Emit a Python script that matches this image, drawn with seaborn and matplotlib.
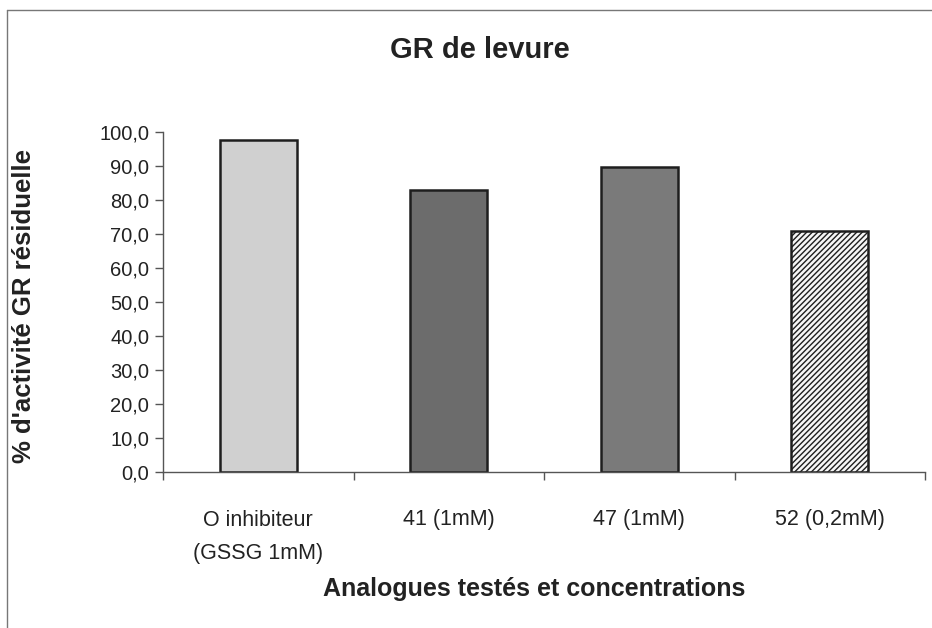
import matplotlib
matplotlib.use("Agg")
import matplotlib.pyplot as plt
import seaborn as sns
import pandas as pd

# Residual GR activity for each tested analogue
categories = ["O inhibiteur\n(GSSG 1mM)", "41 (1mM)", "47 (1mM)", "52 (0,2mM)"]
activity = [97.6, 82.9, 89.7, 70.9]
bar_colors = ["#d0d0d0", "#6c6c6c", "#7a7a7a", "#f6f6f6"]
bar_hatches = ["", "", "", "//////"]
y_ticks = [0, 10, 20, 30, 40, 50, 60, 70, 80, 90, 100]

sns.set_theme(style="white")
plt.rcParams["font.family"] = ["Liberation Sans", "DejaVu Sans"]
plt.rcParams["hatch.color"] = "#767676"
plt.rcParams["hatch.linewidth"] = 1.0

df = pd.DataFrame({"analogue": categories, "activite": activity})

fig = plt.figure(figsize=(9.32, 6.28), dpi=100)
ax = fig.add_axes([163 / 932, 1 - 472 / 628, 762 / 932, 340 / 628])

sns.barplot(data=df, x="analogue", y="activite", hue="analogue",
            palette=bar_colors, legend=False, width=0.405,
            edgecolor="#1e1e1e", linewidth=1.8, ax=ax)
for patch, h in zip(ax.patches, bar_hatches):
    patch.set_hatch(h)

ax.set_xlim(-0.5, len(categories) - 0.5)
ax.set_ylim(0, 100)
ax.set_yticks(y_ticks)
ax.set_yticklabels([f"{v:.1f}".replace(".", ",") for v in y_ticks],
                   fontsize=14.5, color="#222222")
ax.set_xticks(range(len(categories)))
ax.set_xticklabels(categories, fontsize=15.5, linespacing=1.75,
                   color="#222222")
ax.set_xticks([i - 0.5 for i in range(len(categories) + 1)], minor=True)
ax.tick_params(axis="x", which="major", length=0, pad=27)
ax.tick_params(axis="x", which="minor", length=6, width=1, color="#555555",
               direction="out", bottom=True)
ax.tick_params(axis="y", length=6, width=1, color="#555555", direction="out",
               left=True, pad=4)

for side in ["top", "right"]:
    ax.spines[side].set_visible(False)
for side in ["left", "bottom"]:
    ax.spines[side].set_color("#555555")
    ax.spines[side].set_linewidth(1.0)

ax.set_xlabel("Analogues testés et concentrations", fontsize=18,
              fontweight="bold", color="#222222")
ax.xaxis.set_label_coords((534 - 163) / 762, -(577 - 472) / 340)
ax.set_ylabel("% d'activité GR résiduelle", fontsize=18.5, fontweight="bold",
              color="#222222")
ax.yaxis.set_label_coords(-(163 - 36) / 762, (472 - 306) / 340)
fig.text(480 / 932, 1 - 50 / 628, "GR de levure", fontsize=21,
         fontweight="bold", ha="center", va="center", color="#222222")

# chart frame edges
fig.add_artist(plt.Line2D([7 / 932, 7 / 932], [0, 1 - 10 / 628],
                          transform=fig.transFigure, color="#777777", lw=1))
fig.add_artist(plt.Line2D([7 / 932, 1], [1 - 10 / 628, 1 - 10 / 628],
                          transform=fig.transFigure, color="#777777", lw=1))

fig.savefig("out.png", dpi=100)
